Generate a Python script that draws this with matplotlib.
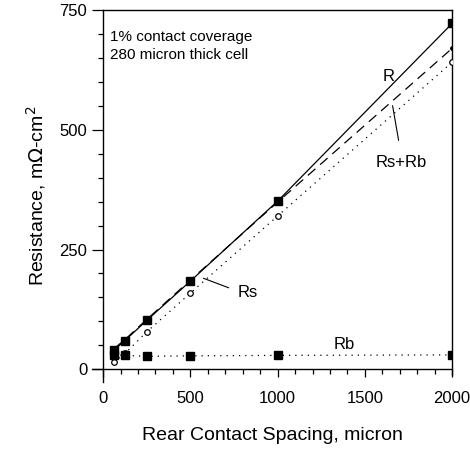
import numpy as np
import matplotlib.pyplot as plt
from matplotlib.ticker import MultipleLocator

plt.rcParams['font.family'] = ['Liberation Sans', 'DejaVu Sans']

# data
spacing = [62.5, 125, 250, 500, 1000, 2000]   # rear contact spacing, micron
R = [40, 60, 102, 184, 351, 722]
Rs = [15, 33, 78, 159, 320, 641]
Rs_Rb = [43, 62, 104, 186, 349, 670]
Rb = [30, 29, 27, 28, 29, 30]

fig = plt.figure(figsize=(4.7, 4.55), dpi=100)
ax = fig.add_axes([0.196, 0.160, 0.766, 0.818])

ax.plot(spacing, R, '-', color='black', lw=0.9, marker='s', ms=6, zorder=4)
ax.plot(spacing, Rs_Rb, color='black', lw=0.9, ls=(0, (8, 5)), marker='o', ms=2.5, zorder=3)
ax.plot(spacing, Rs, color='black', lw=0.9, ls=(0, (1, 4)), marker='o', ms=4,
        mfc='white', mew=0.9, zorder=3)
ax.plot(spacing, Rb, color='black', lw=0.9, ls=(0, (1, 4)), marker='s', ms=5.5, zorder=3)

ax.set_xlim(-63, 2000)
ax.set_ylim(-27, 750)

ax.spines['left'].set_position(('data', 0))
ax.spines['bottom'].set_position(('data', 0))
ax.spines['top'].set_bounds(0, 2000)
ax.spines['right'].set_bounds(-12, 750)
for s in ax.spines.values():
    s.set_linewidth(1.0)

ax.xaxis.set_major_locator(MultipleLocator(500))
ax.xaxis.set_minor_locator(MultipleLocator(100))
ax.yaxis.set_major_locator(MultipleLocator(250))
ax.yaxis.set_minor_locator(MultipleLocator(50))
ax.tick_params(which='both', top=False, right=False, direction='out', width=0.9)
ax.tick_params(which='major', length=6, labelsize=12)
ax.tick_params(axis='y', which='major', length=8)
ax.tick_params(which='minor', length=3.5)
ax.tick_params(axis='x', pad=10)

ax.set_xlabel('Rear Contact Spacing, micron', fontsize=14, labelpad=15)
ax.set_ylabel('Resistance, m$\\Omega$-cm$^2$', fontsize=14, labelpad=8)

ax.text(40, 708, '1% contact coverage\n280 micron thick cell', fontsize=11,
        va='top', linespacing=1.35)
ax.text(1600, 612, 'R', fontsize=12, va='center')
ax.text(1560, 432, 'Rs+Rb', fontsize=12, va='center')
ax.annotate('', xy=(1656, 556), xytext=(1696, 472),
            arrowprops=dict(arrowstyle='-', lw=0.8, color='black'))
ax.text(770, 161, 'Rs', fontsize=12, va='center')
ax.annotate('', xy=(560, 192), xytext=(735, 168),
            arrowprops=dict(arrowstyle='-', lw=0.8, color='black'))
ax.text(1320, 52, 'Rb', fontsize=12, va='center')

fig.savefig('out.png', dpi=100)
